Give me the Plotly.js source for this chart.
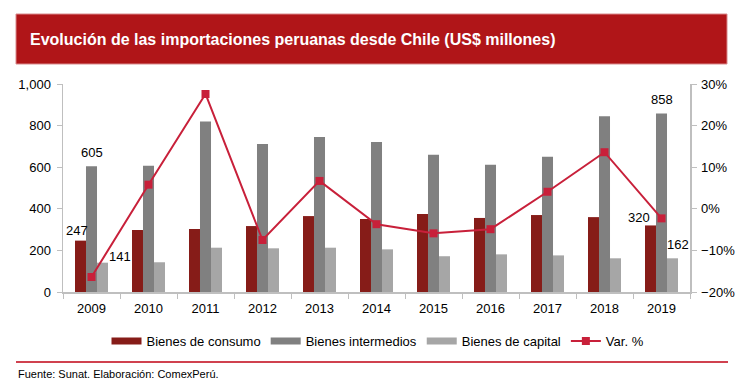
<!DOCTYPE html>
<html>
<head>
<meta charset="utf-8">
<script src="https://cdn.plot.ly/plotly-3.0.1.min.js"></script>
<style>
html,body{margin:0;padding:0;background:#fff;}
#chart{width:741px;height:391px;}
</style>
</head>
<body>
<div id="chart"></div>
<script>
// ---- data ----
var years = ['2009','2010','2011','2012','2013','2014','2015','2016','2017','2018','2019'];
var consumo = [247, 298, 303, 317, 365, 351, 375, 356, 370, 360, 320];
var intermedios = [605, 607, 820, 711, 745, 721, 660, 612, 650, 845, 858];
var capital = [141, 143, 213, 210, 213, 205, 172, 181, 176, 162, 162];
var varPct = [-16.4, 5.8, 27.6, -7.5, 6.7, -3.7, -5.9, -4.9, 4.1, 13.6, -2.3];
var seriesNames = ['Bienes de consumo', 'Bienes intermedios', 'Bienes de capital', 'Var. %'];
var chartTitle = 'Evolución de las importaciones peruanas desde Chile (US$ millones)';
var sourceText = 'Fuente: Sunat. Elaboración: ComexPerú.';

// ---- layout geometry (pixels) ----
var W = 741, H = 391;
var L = 63, R = 690, T = 84, B = 292;
function px(x){ return (x - L) / (R - L); }
function py(y){ return (B - y) / (B - T); }

var font = 'Liberation Sans, Arial, sans-serif';
var colors = ['#861C18', '#808080', '#A6A6A6', '#C8203A'];

var traces = [
  {type:'bar', name:seriesNames[0], x:years, y:consumo, marker:{color:colors[0]}, showlegend:false},
  {type:'bar', name:seriesNames[1], x:years, y:intermedios, marker:{color:colors[1]}, showlegend:false},
  {type:'bar', name:seriesNames[2], x:years, y:capital, marker:{color:colors[2]}, showlegend:false},
  {type:'scatter', mode:'lines+markers', name:seriesNames[3], x:years, y:varPct, yaxis:'y2',
   line:{color:colors[3], width:2}, marker:{symbol:'square', size:8, color:colors[3]}, showlegend:false}
];
// legend entries (wide rectangular swatches like the original)
for (var k = 0; k < 3; k++) {
  traces.push({type:'scatter', mode:'lines', name:seriesNames[k], x:[null], y:[null],
               line:{color:colors[k], width:7}, legendrank:k+1});
}
traces.push({type:'scatter', mode:'lines+markers', name:seriesNames[3], x:[null], y:[null], yaxis:'y2',
             line:{color:colors[3], width:2}, marker:{symbol:'square', size:8, color:colors[3]}, legendrank:4});

var last = years.length - 1;
var lblFont = {family:font, size:13, color:'#000'};
var annotations = [
  {x:0, y:consumo[0], text:String(consumo[0]), xshift:-15, yshift:10},
  {x:0, y:intermedios[0], text:String(intermedios[0]), xshift:0, yshift:14},
  {x:0, y:capital[0], text:String(capital[0]), xshift:28, yshift:6},
  {x:last, y:consumo[last], text:String(consumo[last]), xshift:-23, yshift:8},
  {x:last, y:intermedios[last], text:String(intermedios[last]), xshift:0, yshift:14},
  {x:last, y:capital[last], text:String(capital[last]), xshift:16, yshift:14}
].map(function(a){ a.xref='x'; a.yref='y'; a.showarrow=false; a.font=lblFont; return a; });
annotations.push({x:px(16), y:py(374), xref:'paper', yref:'paper', xanchor:'left', yanchor:'middle', showarrow:false,
   text:sourceText, font:{family:font, size:11, color:'#000'}});

var layout = {
  width:W, height:H,
  margin:{l:L, r:W-R, t:T, b:H-B, pad:0},
  paper_bgcolor:'#fff', plot_bgcolor:'#fff',
  font:{family:font, size:13, color:'#000'},
  title:{text:'<b>'+chartTitle+'</b>', x:30/W, xref:'container', xanchor:'left',
         y:1-39/H, yref:'container', yanchor:'middle',
         font:{family:font, size:16, color:'#fff'}},
  barmode:'group', bargap:0.42, bargroupgap:0,
  showlegend:true,
  legend:{orientation:'h', x:px(378), xanchor:'center', y:py(341), yanchor:'middle',
          font:{family:font, size:13, color:'#000'}, traceorder:'normal', itemwidth:30},
  xaxis:{type:'category', range:[-0.5, 10.5], showline:true, linecolor:'#BFBFBF', linewidth:1.5,
         ticks:'outside', tickson:'boundaries', ticklen:5, tickcolor:'#BFBFBF', ticklabelstandoff:4,
         showgrid:false, zeroline:false, tickfont:{family:font,size:13,color:'#000'}},
  yaxis:{range:[0,1000], dtick:200, tickformat:',d', showline:true, linecolor:'#BFBFBF', linewidth:1.5,
         ticks:'outside', ticklen:5, tickcolor:'#BFBFBF', ticklabelstandoff:3, showgrid:false, zeroline:false,
         tickfont:{family:font,size:13,color:'#000'}},
  yaxis2:{range:[-20,30], dtick:10, ticksuffix:'%', overlaying:'y', side:'right',
          showline:true, linecolor:'#BFBFBF', linewidth:1.5, ticks:'outside', ticklen:5, tickcolor:'#BFBFBF',
          ticklabelstandoff:2, showgrid:false, zeroline:false, tickfont:{family:font,size:13,color:'#000'}},
  shapes:[
    {type:'rect', xref:'paper', yref:'paper', x0:px(16), x1:px(727), y0:py(14), y1:py(64),
     fillcolor:'#B01518', line:{width:1, color:'#D98A8C'}, layer:'below'},
    {type:'line', xref:'paper', yref:'paper', x0:px(16), x1:px(728), y0:py(362), y1:py(362),
     line:{width:2, color:'#D0414F'}}
  ],
  annotations:annotations
};

Plotly.newPlot('chart', traces, layout, {displayModeBar:false, staticPlot:true});
</script>
</body>
</html>
